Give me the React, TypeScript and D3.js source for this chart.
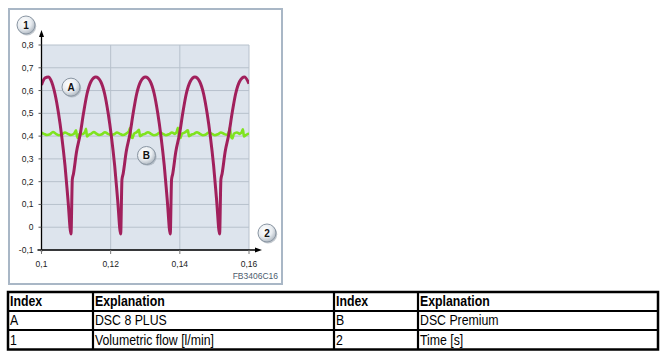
import React from "react";
import * as d3 from "d3";

// ---------- data ----------
const yTicks = [0.8, 0.7, 0.6, 0.5, 0.4, 0.3, 0.2, 0.1, 0, -0.1];
const xTicks = [0.1, 0.12, 0.14, 0.16];

// Series A: DSC 8 PLUS (volumetric flow, l/min) vs time (s)
const seriesATime = [
  0.1, 0.101, 0.102, 0.10275, 0.10391, 0.10492, 0.10584, 0.1068, 0.10766, 0.10853,
  0.10891, 0.10925, 0.11012, 0.11122, 0.11214, 0.11315, 0.11431, 0.11571,
  0.11711, 0.11827, 0.11928, 0.1202, 0.12116, 0.12202, 0.12289,
  0.12327, 0.12361, 0.12448, 0.12558, 0.1265, 0.12751, 0.12867, 0.13006,
  0.13145, 0.13261, 0.13362, 0.13454, 0.1355, 0.13636, 0.13723,
  0.13761, 0.13795, 0.13882, 0.13992, 0.14084, 0.14185, 0.14301, 0.14437,
  0.14572, 0.14688, 0.14789, 0.14881, 0.14977, 0.15063, 0.1515,
  0.15188, 0.15222, 0.15309, 0.15419, 0.15511, 0.15612, 0.15728, 0.1587, 0.16,
];
const seriesAValue = [
  0.625, 0.655, 0.66, 0.645, 0.585, 0.5, 0.4, 0.27, 0.12, -0.03,
  0.21, 0.235, 0.33, 0.41, 0.5, 0.585, 0.64, 0.66,
  0.64, 0.585, 0.5, 0.4, 0.27, 0.12, -0.03,
  0.21, 0.235, 0.33, 0.41, 0.5, 0.585, 0.64, 0.66,
  0.64, 0.585, 0.5, 0.4, 0.27, 0.12, -0.03,
  0.21, 0.235, 0.33, 0.41, 0.5, 0.585, 0.64, 0.66,
  0.64, 0.585, 0.5, 0.4, 0.27, 0.12, -0.03,
  0.21, 0.235, 0.33, 0.41, 0.5, 0.585, 0.64, 0.66, 0.63,
];

// Series B: DSC Premium
const seriesBTime = [
  0.1, 0.10072, 0.10159, 0.10246, 0.10332, 0.10419, 0.10506, 0.10592, 0.10679, 0.10766,
  0.10853, 0.10939, 0.10997, 0.11026, 0.11055, 0.11098, 0.1117, 0.11257, 0.11286, 0.11315,
  0.11358, 0.11431, 0.11517, 0.11575, 0.11662, 0.11748, 0.11835, 0.11922, 0.12009, 0.12095,
  0.12182, 0.12269, 0.12355, 0.12442, 0.12529, 0.12558, 0.12587, 0.1263, 0.12673, 0.1276,
  0.12818, 0.12847, 0.12905, 0.12991, 0.13078, 0.13165, 0.13251, 0.13338, 0.13425, 0.13512,
  0.13598, 0.13685, 0.13772, 0.13858, 0.13916, 0.13945, 0.13974, 0.14017, 0.1406, 0.14147,
  0.14234, 0.14263, 0.14321, 0.14407, 0.14494, 0.14581, 0.14668, 0.14754, 0.14841, 0.14928,
  0.15014, 0.15101, 0.15188, 0.15274, 0.15361, 0.15419, 0.15448, 0.15477, 0.1552, 0.15563,
  0.1565, 0.15737, 0.15795, 0.15824, 0.15853, 0.15911, 0.16,
];
const seriesBValue = [
  0.415, 0.41, 0.405, 0.408, 0.418, 0.41, 0.404, 0.407, 0.416, 0.41,
  0.405, 0.41, 0.425, 0.4, 0.392, 0.41, 0.408, 0.418, 0.432, 0.398,
  0.405, 0.41, 0.418, 0.412, 0.405, 0.408, 0.417, 0.41, 0.405, 0.408,
  0.416, 0.41, 0.405, 0.41, 0.422, 0.435, 0.398, 0.392, 0.41, 0.418,
  0.428, 0.4, 0.405, 0.41, 0.417, 0.41, 0.404, 0.407, 0.416, 0.41,
  0.404, 0.408, 0.416, 0.41, 0.422, 0.436, 0.398, 0.392, 0.41, 0.416,
  0.425, 0.4, 0.405, 0.41, 0.417, 0.41, 0.404, 0.407, 0.416, 0.41,
  0.404, 0.408, 0.416, 0.41, 0.406, 0.42, 0.436, 0.398, 0.39, 0.41,
  0.416, 0.41, 0.42, 0.43, 0.398, 0.405, 0.412,
];

const calloutA = { label: "A", t: 0.10853, v: 0.615 };
const calloutB = { label: "B", t: 0.13035, v: 0.315 };
const axisYLabel = "1";
const axisXLabel = "2";
const figureCode = "FB3406C16";

const tableHeader = ["Index", "Explanation", "Index", "Explanation"];
const tableRow1 = ["A", "DSC 8 PLUS", "B", "DSC Premium"];
const tableRow2 = ["1", "Volumetric flow [l/min]", "2", "Time [s]"];

// ---------- layout ----------
const W = 666;
const H = 358;
const plot = { left: 41.5, right: 249, top: 45, bottom: 250 };
const colX = [8, 93, 334, 418, 658];
const rowY = [292, 311, 330, 349.5];

const fmt = d3.formatLocale({
  decimal: ",",
  thousands: ".",
  grouping: [3],
  currency: ["", ""],
  minus: "-",
}).format("~g");

function Callout({ x, y, label }: { x: number; y: number; label: string }) {
  return (
    <g>
      <circle cx={x + 1} cy={y + 1.2} r={9.2} fill="#9aa3ad" opacity={0.6} />
      <circle cx={x} cy={y} r={9} fill="url(#bubble)" stroke="#8a96a3" strokeWidth={1} />
      <text
        x={x}
        y={y + 3.5}
        textAnchor="middle"
        fontFamily="'Liberation Sans', Arial, sans-serif"
        fontWeight="bold"
        fontSize={10}
        fill="#111"
      >
        {label}
      </text>
    </g>
  );
}

export default function App() {
  const x = d3.scaleLinear().domain([0.1, 0.16]).range([plot.left, plot.right]);
  const y = d3.scaleLinear().domain([-0.1, 0.8]).range([plot.bottom, plot.top]);

  const dataA = seriesATime.map((t, i) => [t, seriesAValue[i]] as [number, number]);
  const dataB = seriesBTime.map((t, i) => [t, seriesBValue[i]] as [number, number]);

  const lineGen = d3
    .line<[number, number]>()
    .x((d) => x(d[0]))
    .y((d) => y(d[1]))
    .curve(d3.curveMonotoneX);

  const font = "'Liberation Sans', Arial, sans-serif";
  const gridColor = "#b7c1cc";

  const xAxisY = plot.bottom;
  const yAxisTop = 30;
  const xAxisRight = 262;

  const rows = [tableHeader, tableRow1, tableRow2];

  return (
    <svg
      width={W}
      height={H}
      viewBox={`0 0 ${W} ${H}`}
      style={{ position: "absolute", left: 0, top: 0, background: "#fff" }}
    >
      <defs>
        <radialGradient id="bubble" cx="40%" cy="35%" r="70%">
          <stop offset="0%" stopColor="#ffffff" />
          <stop offset="55%" stopColor="#e9edf1" />
          <stop offset="100%" stopColor="#aab3bd" />
        </radialGradient>
        <clipPath id="plotClip">
          <rect x={plot.left} y={plot.top - 5} width={plot.right - plot.left} height={plot.bottom - plot.top + 5} />
        </clipPath>
      </defs>

      {/* figure frame */}
      <rect x={9} y={9} width={273} height={275} fill="#fff" stroke="#a9b7c6" strokeWidth={2} />

      {/* plot background */}
      <rect
        x={plot.left}
        y={plot.top}
        width={plot.right - plot.left}
        height={plot.bottom - plot.top}
        fill="#dde4ed"
      />

      {/* grid */}
      {yTicks.map((v) => (
        <line key={"gy" + v} x1={plot.left} x2={plot.right} y1={y(v)} y2={y(v)} stroke={gridColor} strokeWidth={1} />
      ))}
      {xTicks.slice(1).map((t) => (
        <line key={"gx" + t} x1={x(t)} x2={x(t)} y1={plot.top} y2={plot.bottom} stroke={gridColor} strokeWidth={1} />
      ))}

      {/* series */}
      <g clipPath="url(#plotClip)">
        <path d={lineGen(dataB) || ""} fill="none" stroke="#7fe31f" strokeWidth={2.6} strokeLinejoin="round" />
        <path d={lineGen(dataA) || ""} fill="none" stroke="#a1205c" strokeWidth={3} strokeLinejoin="round" />
      </g>

      {/* axes */}
      <line x1={plot.left} x2={plot.left} y1={xAxisY + 2} y2={yAxisTop + 5} stroke="#000" strokeWidth={1.3} />
      <path d={`M${plot.left},${yAxisTop} L${plot.left - 2.5},${yAxisTop + 7} L${plot.left + 2.5},${yAxisTop + 7} Z`} fill="#000" />
      <line x1={plot.left - 4} x2={xAxisRight - 5} y1={xAxisY} y2={xAxisY} stroke="#000" strokeWidth={1.3} />
      <path d={`M${xAxisRight},${xAxisY} L${xAxisRight - 7},${xAxisY - 2.5} L${xAxisRight - 7},${xAxisY + 2.5} Z`} fill="#000" />

      {/* y ticks */}
      {yTicks.map((v) => (
        <g key={"yt" + v}>
          <line x1={plot.left - 3} x2={plot.left} y1={y(v)} y2={y(v)} stroke="#555" strokeWidth={1} />
          <text x={plot.left - 8} y={y(v) + 3} textAnchor="end" fontFamily={font} fontSize={8.5} fill="#222">
            {fmt(v)}
          </text>
        </g>
      ))}

      {/* x ticks */}
      {xTicks.map((t) => (
        <g key={"xt" + t}>
          <line x1={x(t)} x2={x(t)} y1={xAxisY} y2={xAxisY + 4} stroke="#777" strokeWidth={1} />
          <text x={x(t)} y={xAxisY + 17} textAnchor="middle" fontFamily={font} fontSize={8.5} fill="#222">
            {fmt(t)}
          </text>
        </g>
      ))}

      <text x={278} y={279} textAnchor="end" fontFamily={font} fontSize={8.5} fill="#4d5d6e">
        {figureCode}
      </text>

      {/* callouts */}
      <Callout x={plot.left - 15.5} y={yAxisTop - 5} label={axisYLabel} />
      <Callout x={xAxisRight + 5} y={xAxisY - 17} label={axisXLabel} />
      <Callout x={x(calloutA.t)} y={y(calloutA.v)} label={calloutA.label} />
      <Callout x={x(calloutB.t)} y={y(calloutB.v)} label={calloutB.label} />

      {/* table */}
      <g>
        {rows.map((row, ri) =>
          row.map((cell, ci) => (
            <text
              key={`c${ri}-${ci}`}
              x={colX[ci] + 2}
              y={rowY[ri + 1] - 4.5}
              fontFamily={font}
              fontSize={14}
              fontWeight={ri === 0 ? "bold" : "normal"}
              fill="#000"
              transform={`translate(${colX[ci] + 2},0) scale(0.88,1) translate(${-(colX[ci] + 2)},0)`}
            >
              {cell}
            </text>
          ))
        )}
        {rowY.slice(1, -1).map((ry) => (
          <line key={"rl" + ry} x1={colX[0]} x2={colX[4]} y1={ry} y2={ry} stroke="#000" strokeWidth={2.2} />
        ))}
        {colX.slice(1, -1).map((cx) => (
          <line key={"cl" + cx} x1={cx} x2={cx} y1={rowY[0]} y2={rowY[3]} stroke="#000" strokeWidth={2.2} />
        ))}
        <rect
          x={colX[0]}
          y={rowY[0]}
          width={colX[4] - colX[0]}
          height={rowY[3] - rowY[0]}
          fill="none"
          stroke="#000"
          strokeWidth={2.5}
        />
      </g>
    </svg>
  );
}
